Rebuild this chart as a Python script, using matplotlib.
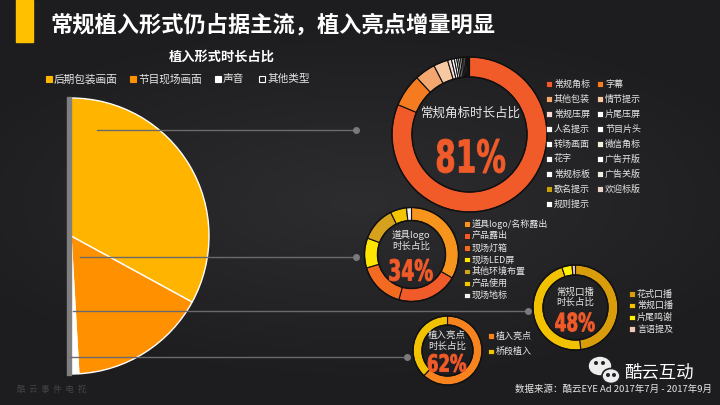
import numpy as np
import matplotlib
matplotlib.use('Agg')
import matplotlib.pyplot as plt
from matplotlib.patches import Rectangle, Ellipse, Circle, PathPatch
from matplotlib.colors import LinearSegmentedColormap
from matplotlib.textpath import TextPath
from matplotlib.font_manager import FontProperties
from matplotlib.transforms import Affine2D

plt.rcParams['font.family'] = ['Noto Sans CJK SC', 'DejaVu Sans']

# ---- data ----
pie_labels = ['后期包装画面', '节目现场画面', '声音', '其他类型']
pie_values = [65.9, 32.3, 1.7, 0.1]
pie_colors = ['#FFB500', '#FF9000', '#FFFFFF', '#FFFFFF']

big_labels = ['常规角标', '字幕', '其他包装', '情节提示', '常规压屏', '片尾压屏', '人名提示',
              '节目片头', '转场画面', '微信角标', '花字', '广告开版', '常规标板', '广告关版',
              '歌名提示', '欢迎标版', '规则提示']
big_values = [81, 6.8, 4.3, 3.0, 0.8, 0.6, 0.5, 0.4, 0.4, 0.35, 0.3, 0.3, 0.25, 0.2, 0.2, 0.15, 0.1]
big_colors = ['#F15A29', '#F47B20', '#F3A66E', '#F7C9A2', '#F8DCD4', '#FFFFFF', '#FFFFFF',
              '#FFFFFF', '#FFFFFF', '#F4F4DC', '#FFFFFF', '#FFFFFF', '#FFFFFF', '#EFEFE0',
              '#C9A10A', '#E9D2C8', '#FFFFFF']

logo_labels = ['道具logo/名称露出', '产品露出', '现场灯箱', '现场LED屏', '其他环境布置', '产品使用', '现场地标']
logo_values = [33.3, 21, 16, 10.3, 12, 5.6, 1.7]
logo_colors = ['#F7941D', '#F15A29', '#F36A21', '#FFE600', '#D6A21E', '#F2C500', '#F2F2EE']

kb_labels = ['花式口播', '常规口播', '片尾鸣谢', '言语提及']
kb_values = [48, 46.8, 3.9, 1.3]
kb_colors = ['#D99C0A', '#F2C200', '#FFF000', '#EFC8B8']

hl_labels = ['植入亮点', '桥段植入']
hl_values = [62, 38]
hl_colors = ['#F7831F', '#F2C200']

W, H = 720, 405
BG = '#242427'
TXT = '#E6E6E6'
NUM = '#F15A29'


def Y(y):
    return H - y


fig = plt.figure(figsize=(7.2, 4.05), dpi=100, facecolor=BG)
ax = fig.add_axes([0, 0, 1, 1])
ax.set_facecolor(BG)

# soft background glow
gx, gy = np.meshgrid(np.linspace(-1, 1, 240), np.linspace(-1, 1, 135))
glow = np.clip(1 - np.sqrt((gx * 0.8) ** 2 + (gy * 1.1) ** 2), 0, 1)
bg_cmap = LinearSegmentedColormap.from_list('bg', ['#1d1d1f', '#2d2d30'])
ax.imshow(glow, cmap=bg_cmap, extent=[0, W, 0, H], zorder=0, aspect='auto')

# title
ax.add_patch(Rectangle((16, Y(42)), 17, 42, color='#FFC000', zorder=2))
ax.text(50, Y(25), '常规植入形式仍占据主流，植入亮点增量明显', color='white', fontsize=16,
        fontweight='bold', va='center', ha='left')
ax.text(222, Y(57), '植入形式时长占比', color='white', fontsize=9.5, fontweight='bold',
        va='center', ha='center')

# left legend
leg_x = [49, 133, 218, 262]
for x, lab, c in zip(leg_x, pie_labels, pie_colors):
    hollow = lab == '其他类型'
    ax.add_patch(Rectangle((x - 3, Y(79) - 3), 6, 6, facecolor='none' if hollow else c,
                           edgecolor='white' if hollow else c, lw=0.8, zorder=3))
    ax.text(x + 5, Y(79), lab, color=TXT, fontsize=7.7, va='center', ha='left')

# half pie
pc = (71, Y(236))
wedges, _ = ax.pie(pie_values + [sum(pie_values)], colors=pie_colors + ['none'],
                   startangle=90, counterclock=False, radius=138, center=pc, frame=True,
                   wedgeprops=dict(edgecolor='white', linewidth=1))
wedges[-1].set_visible(False)
for w in wedges:
    w.set_zorder(2)
ax.add_patch(Rectangle((66.5, Y(375)), 4.5, 278, color='#7F7F7F', zorder=3))

# connector lines
links = [(97, 356, 130), (80, 356, 257), (73, 528, 311), (70, 407, 357)]
for x0, x1, yy in links:
    ax.plot([x0, x1], [Y(yy), Y(yy)], color='#6A6A6C', lw=1, zorder=4)
    ax.plot([x1], [Y(yy)], 'o', color='#7A7A7C', ms=4, zorder=4)


def donut(values, colors, cx, cy, r, width):
    ws, _ = ax.pie(values, colors=colors, startangle=90, counterclock=False, radius=r,
                   center=(cx, Y(cy)), frame=True,
                   wedgeprops=dict(width=width, edgecolor='#111111', linewidth=0.8))
    for w in ws:
        w.set_zorder(5)
    ax.add_patch(Circle((cx, Y(cy)), r, fill=False, ec='#111111', lw=1, zorder=6))
    ax.add_patch(Circle((cx, Y(cy)), r - width, fill=False, ec='#111111', lw=1, zorder=6))


def legend(labels, colors, x, y0, dy, size):
    for i, (lab, c) in enumerate(zip(labels, colors)):
        yy = Y(y0 + dy * i)
        ax.add_patch(Rectangle((x - 2.7, yy - 2.7), 5.4, 5.4, facecolor=c, edgecolor='#111111',
                               lw=0.5, zorder=6))
        ax.text(x + 5, yy, lab, color=TXT, fontsize=size, va='center', ha='left', zorder=6)


def big_num(txt, x, y, w, h):
    # condensed heavy numerals: squeeze a bold text path into a w x h pixel box
    tp = TextPath((0, 0), txt, size=40, prop=FontProperties(family='DejaVu Sans', weight='bold'))
    ext = tp.get_extents()
    tr = (Affine2D().translate(-ext.x0 - ext.width / 2, -ext.y0 - ext.height / 2)
          .scale(w / ext.width, h / ext.height).translate(x, Y(y)))
    ax.add_patch(PathPatch(tr.transform_path(tp), facecolor=NUM, edgecolor=NUM, lw=0.6, zorder=7))


# 81% donut
donut(big_values, big_colors, 469.5, 134.5, 77.5, 20)
ax.text(471, Y(113), '常规角标时长占比', color=TXT, fontsize=9, va='center', ha='center', zorder=7)
big_num('81%', 471, 156, 68, 34)
for i in range(0, len(big_labels), 2):
    legend(big_labels[i:i + 1], big_colors[i:i + 1], 549, 84 + 15 * (i // 2), 15, 6.5)
    if i + 1 < len(big_labels):
        legend(big_labels[i + 1:i + 2], big_colors[i + 1:i + 2], 600, 84 + 15 * (i // 2), 15, 6.5)

# 34% donut
donut(logo_values, logo_colors, 411.5, 254.5, 47, 13)
ax.text(411, Y(235), '道具logo', color=TXT, fontsize=6.8, va='center', ha='center', zorder=7)
ax.text(411, Y(246), '时长占比', color=TXT, fontsize=6.8, va='center', ha='center', zorder=7)
big_num('34%', 411, 270, 43, 22)
legend(logo_labels, logo_colors, 467, 224, 11.9, 6.5)

# 48% donut
donut(kb_values, kb_colors, 575.5, 307.5, 42.5, 10)
ax.text(575, Y(292), '常规口播', color=TXT, fontsize=6.8, va='center', ha='center', zorder=7)
ax.text(575, Y(302), '时长占比', color=TXT, fontsize=6.8, va='center', ha='center', zorder=7)
big_num('48%', 575, 322, 39, 19)
legend(kb_labels, kb_colors, 632, 294, 11.7, 6.5)

# 62% donut
donut(hl_values, hl_colors, 447.5, 350.5, 34.5, 9)
ax.text(447, Y(335), '植入亮点', color=TXT, fontsize=6.8, va='center', ha='center', zorder=7)
ax.text(447, Y(346), '时长占比', color=TXT, fontsize=6.8, va='center', ha='center', zorder=7)
big_num('62%', 447, 363, 38, 18)
legend(hl_labels, hl_colors, 491, 336, 15.5, 6.5)

# wechat mark + source
ax.add_patch(Ellipse((600, Y(366)), 21, 17, color='#EDEDED', zorder=7))
ax.add_patch(Ellipse((611, Y(376)), 18, 15, facecolor='#EDEDED', edgecolor=BG, lw=1.2, zorder=8))
for ex, ey in [(596, 363), (603, 363), (608, 375), (614, 375)]:
    ax.add_patch(Circle((ex, Y(ey)), 1.3, color=BG, zorder=9))
ax.text(624, Y(373), '酷云互动', color='white', fontsize=12.5, va='center', ha='left', zorder=7)
ax.text(712, Y(389), '数据来源：酷云EYE Ad 2017年7月 - 2017年9月', color=TXT, fontsize=6.8,
        va='center', ha='right', zorder=7)
ax.text(17, Y(389), '酷  云  事  件  电  视', color='#444446', fontsize=6, va='center', ha='left')

ax.set_xlim(0, W)
ax.set_ylim(0, H)
ax.axis('off')
fig.savefig('out.png', dpi=100, facecolor=BG)
